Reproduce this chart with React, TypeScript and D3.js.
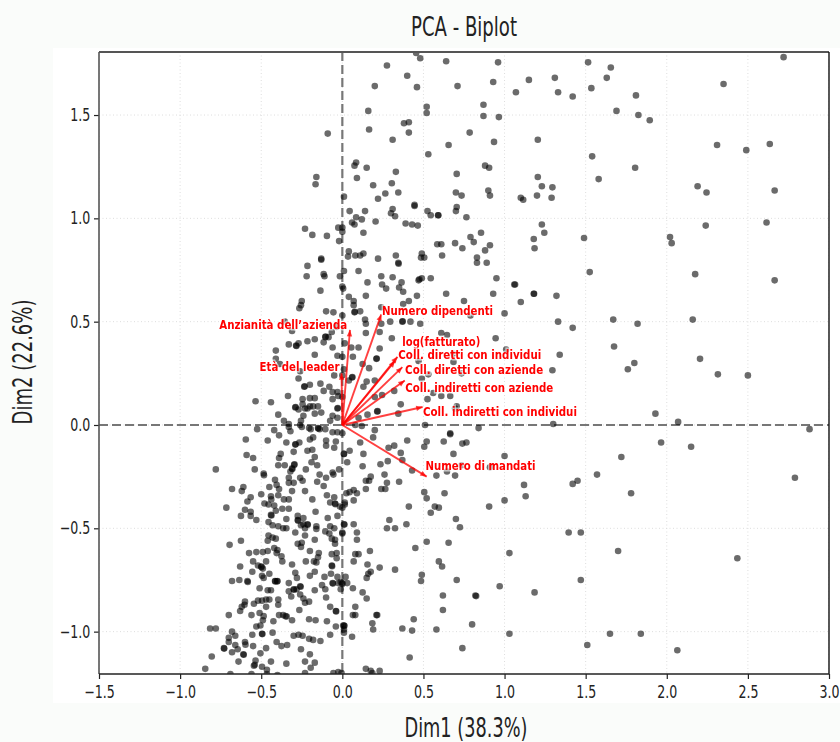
import React, { useEffect, useRef } from "react";
import * as d3 from "d3";

type Pt = [number, number];

const upperLeft: Pt[] = [
  [0.275,1.74],[0.2,1.64],[0.16,1.52],[0.165,1.43],[-0.09,1.41],[0.085,1.27],[0.075,1.255],[0.15,1.245],[-0.16,1.2],[-0.165,1.165],
  [0.09,1.195],[0.19,1.16],[0.01,1.105],[0.265,1.12],[0.22,1.095],[0.045,1.035],[0.14,1.035],[0.085,1.005],[0.06,0.98],[0.075,0.97],
  [0.12,0.995],[0.205,0.985],[-0.23,0.95],[-0.185,0.92],[-0.095,0.915],[-0.025,0.955],[0,0.955],[0,0.935],[-0.02,0.89],[0.13,0.93],
  [0.04,0.84],[0.13,0.83],[0.035,0.815],[0.08,0.82],[0.11,0.82],[-0.13,0.805],[0.22,0.805],
];
const upperMiddle: Pt[] = [
  [0.455,1.8],[0.48,1.775],[0.64,1.76],[0.96,1.755],[0.4,1.69],[0.46,1.635],[0.71,1.64],[0.93,1.66],[1.15,1.67],[1.31,1.68],
  [1.07,1.61],[1.33,1.61],[1.42,1.59],[1.515,1.755],[0.52,1.54],[0.52,1.51],[0.87,1.55],[0.87,1.495],[0.965,1.49],[0.38,1.46],
  [0.41,1.465],[0.41,1.415],[0.31,1.38],[0.785,1.415],[0.655,1.355],[0.935,1.37],[1.205,1.38],[0.53,1.31],[0.33,1.225],[0.88,1.255],
  [0.905,1.245],[0.705,1.215],[1.205,1.2],[0.305,1.17],[1.23,1.155],[1.295,1.15],[0.9,1.135],[0.91,1.11],[0.7,1.125],[0.735,1.11],
  [0.345,1.125],[1.2,1.11],[1.29,1.1],[1.1,1.1],[1.115,1.09],[0.445,1.065],[0.445,1.06],[0.31,1.045],[0.3,1.025],[0.325,1.01],
  [0.705,1.055],[0.7,1.035],[0.525,1.035],[0.545,1.015],[0.59,1.015],[0.592,1.015],[0.765,1.005],[0.39,0.975],[0.43,0.97],[0.465,0.965],
  [1.23,0.97],[1.245,0.93],[1.18,0.9],[1.185,0.855],[1.49,0.905],[0.855,0.93],[0.79,0.91],[0.81,0.885],[0.695,0.88],[0.585,0.875],
  [0.61,0.875],[0.91,0.87],[0.74,0.855],[0.88,0.845],[0.33,0.82],[0.49,0.83],[0.485,0.81],[0.505,0.81],[0.615,0.82],[0.83,0.81],
  [0.83,0.785],[0.89,0.785],[0.345,0.785],[0.347,0.78],[0.31,0.715],[0.475,0.705],[0.49,0.71],[0.545,0.71],[0.95,0.71],[1.065,0.68],
];
const upperRight: Pt[] = [
  [1.655,1.73],[1.63,1.68],[1.535,1.63],[1.81,1.595],[1.69,1.52],[1.825,1.5],[1.895,1.475],[2.35,1.65],[2.72,1.78],[2.31,1.355],
  [2.49,1.33],[2.635,1.36],[1.54,1.3],[1.805,1.245],[1.58,1.19],[2.19,1.155],[2.245,1.125],[2.665,1.135],[2.24,0.965],[2.615,0.98],
  [2.02,0.91],[2.03,0.88],[1.525,0.74],[2.175,0.73],[2.665,0.7],[1.67,0.51],[1.82,0.49],[2.16,0.51],[1.675,0.38],[1.8,0.3],
  [1.76,0.27],[2.205,0.32],[2.315,0.245],[2.5,0.24],[1.93,0.055],[2.07,0.015],[2.88,-0.02],[1.965,-0.085],[2.15,-0.105],[1.72,-0.155],
  [1.57,-0.24],[1.78,-0.33],[2.79,-0.255],
];
const centerRight: Pt[] = [
  [0.155,0.69],[0.245,0.68],[0.27,0.66],[0.365,0.69],[0.35,0.665],[0.375,0.645],[0.47,0.7],[0.04,0.62],[0.07,0.6],[0.145,0.625],
  [0.46,0.625],[0.41,0.6],[0.375,0.585],[0.64,0.635],[0.93,0.635],[1.06,0.68],[1.18,0.635],[1.182,0.635],[1.32,0.625],[0.75,0.6],
  [1.1,0.595],[0.07,0.58],[0.075,0.545],[0.077,0.548],[0.11,0.55],[0.24,0.57],[0.14,0.51],[0.145,0.49],[0.295,0.5],[0.37,0.5],
  [0.372,0.502],[0.42,0.5],[0.48,0.49],[0.24,0.49],[0.23,0.45],[0.145,0.445],[0.305,0.42],[0.61,0.445],[0.645,0.435],[0.945,0.42],
  [1,0.54],[0.79,0.53],[1.33,0.5],[1.42,0.47],[0.055,0.375],[0.1,0.375],[0.23,0.37],[0.065,0.33],[0.21,0.32],[0.212,0.322],
  [0.125,0.295],[0.165,0.275],[0.06,0.23],[0.062,0.232],[0.04,0.215],[0.15,0.21],[0.2,0.215],[0.13,0.185],[0.32,0.165],[0.2,0.135],
  [0.245,0.145],[0.36,0.1],[0.215,0.065],[0.217,0.067],[0.155,0.05],[0.345,0.055],[0.1,0.035],[0.47,0.31],[0.685,0.345],[0.685,0.305],
  [0.49,0.225],[0.53,0.245],[0.735,0.25],[0.56,0.155],[0.61,0.14],[0.665,0.14],[0.525,0.125],[1.34,0.34],[1.295,0.265],[1.01,0.365],
  [0.695,0.08],[0.705,0.09],[0.51,0],[0.84,-0.015],[1.3,0.005],[0.12,-0.005],[0.08,0],[0.2,-0.025],[0.19,-0.06],[0.11,-0.085],
  [0.4,-0.075],[0.52,-0.08],[0.505,-0.105],[0.625,-0.08],[0.665,-0.04],[0.665,-0.045],[0.74,-0.09],[0.765,-0.085],[0.285,-0.11],[0.32,-0.1],
  [0.36,-0.135],[0.685,-0.14],[1,-0.15],[0.13,-0.14],[0.045,-0.125],[0.01,-0.14],[0.03,-0.18],[0.125,-0.2],[0.28,-0.175],[0.235,-0.19],
  [0.26,-0.24],[0.37,-0.17],[0.43,-0.22],[0.58,-0.245],[0.645,-0.225],[0.695,-0.245],[0.735,-0.195],[0.91,-0.205],[0.175,-0.25],[0.145,-0.27],
  [0.165,-0.27],[0.275,-0.28],[0.35,-0.275],[1.12,-0.29],[1.42,-0.285],[1.45,-0.27],[0,-0.04],
];
const lowerRight: Pt[] = [
  [0.145,-0.31],[0.24,-0.31],[0.265,-0.31],[0.07,-0.315],[0.09,-0.33],[0.025,-0.33],[0.045,-0.325],[0.07,-0.365],[0.015,-0.375],[0.015,-0.385],
  [0,-0.4],[0.505,-0.325],[0.52,-0.355],[0.63,-0.33],[0.41,-0.395],[0.57,-0.395],[0.595,-0.4],[0.545,-0.425],[0.905,-0.395],[1,-0.365],
  [1.13,-0.345],[0.7,-0.455],[0.725,-0.495],[0.29,-0.46],[0.395,-0.48],[0.275,-0.5],[0.325,-0.5],[0.07,-0.48],[0.01,-0.48],[0.013,-0.482],
  [0,-0.52],[0.09,-0.52],[0.09,-0.555],[1.395,-0.52],[1.47,-0.52],[0.52,-0.565],[0.655,-0.57],[0.45,-0.595],[0.17,-0.61],[1.03,-0.62],
  [0.08,-0.625],[0.1,-0.625],[0.07,-0.66],[0.595,-0.66],[0.615,-0.685],[0.155,-0.675],[0.23,-0.69],[0.325,-0.7],[0.175,-0.71],[0.16,-0.72],
  [0.15,-0.74],[0.02,-0.735],[0.03,-0.765],[0,-0.77],[0.065,-0.79],[0.49,-0.725],[0.485,-0.755],[0.705,-0.75],[0.97,-0.78],[1.185,-0.81],
  [1.47,-0.75],[0.125,-0.81],[0.15,-0.84],[0.62,-0.825],[0.82,-0.825],[0.825,-0.828],[0.62,-0.895],[0.08,-0.88],[0.08,-0.92],[0.065,-0.92],
  [0.21,-0.92],[0.215,-0.92],[0.44,-0.94],[0.8,-0.965],[0.185,-0.96],[0.19,-0.99],[0.37,-0.985],[0.43,-0.995],[0.58,-0.99],[1.03,-1.01],
  [0.01,-0.97],[0.013,-0.972],[0.01,-1.005],[0.06,-1.025],[0.74,-1.08],[1.51,-1.065],[0.415,-1.125],[0.145,-1.18],[0.175,-1.19],[0.23,-1.19],
  [0.185,-1.2],[2.065,-1.09],[2.435,-0.645],[1.7,-0.61],[1.65,-1.01],[1.84,-1.01],
];
const centerLeft: Pt[] = [
  [-0.215,0.77],[-0.13,0.8],[-0.22,0.72],[-0.115,0.73],[-0.11,0.72],[-0.015,0.72],[0.01,0.745],[0.1,0.745],[0.24,0.72],[-0.135,0.65],
  [0,0.67],[0.005,0.66],[-0.25,0.6],[-0.255,0.58],[-0.265,0.565],[-0.1,0.55],[-0.055,0.545],[0,0.53],[-0.355,0.5],[-0.31,0.455],
  [-0.065,0.45],[-0.035,0.475],[-0.105,0.425],[-0.103,0.428],[-0.085,0.425],[-0.115,0.4],[-0.17,0.415],[-0.215,0.405],[-0.33,0.39],[-0.285,0.385],
  [-0.27,0.395],[-0.283,0.382],[0.015,0.395],[-0.41,0.36],[-0.41,0.32],[-0.385,0.295],[-0.17,0.34],[-0.06,0.375],[-0.03,0.335],[0,0.33],
  [-0.26,0.26],[-0.27,0.225],[-0.05,0.24],[0.01,0.27],[0,0.24],[-0.2,0.195],[-0.235,0.185],[-0.232,0.187],[-0.135,0.2],[-0.08,0.185],
  [-0.115,0.165],[-0.06,0.16],[-0.03,0.16],[-0.06,0.125],[-0.025,0.14],[0,0.135],[-0.335,0.14],[-0.535,0.115],[-0.44,0.11],[-0.245,0.125],
  [-0.2,0.13],[-0.17,0.13],[-0.245,0.1],[-0.2,0.09],[-0.29,0.085],[-0.288,0.087],[-0.27,0.075],[-0.23,0.08],[-0.18,0.09],[-0.15,0.09],
  [-0.215,0.08],[-0.17,0.055],[-0.13,0.06],[-0.24,0.045],[-0.395,0.05],[-0.36,0.02],[-0.255,0.02],[-0.06,0.045],[-0.03,0.08],[-0.028,0.082],
  [-0.03,0.035],[-0.075,0.02],[-0.33,0.005],[-0.26,0],[-0.14,-0.02],[-0.105,-0.02],[-0.525,-0.02],[-0.42,-0.025],[-0.205,-0.015],
];
const lowerLeftTop: Pt[] = [
  [-0.39,-0.05],[-0.33,-0.01],[-0.32,-0.03],[-0.25,-0.01],[-0.195,-0.02],[-0.15,-0.015],[-0.148,-0.017],[-0.06,-0.035],[-0.03,-0.035],[-0.595,-0.07],
  [-0.46,-0.075],[-0.345,-0.085],[-0.29,-0.095],[-0.288,-0.093],[-0.265,-0.085],[-0.2,-0.07],[-0.18,-0.06],[-0.1,-0.075],[-0.1,-0.1],[-0.04,-0.08],
  [-0.05,-0.11],[-0.3,-0.13],[-0.215,-0.125],[-0.185,-0.12],[0.01,-0.14],[-0.59,-0.145],[-0.55,-0.16],[-0.38,-0.14],[-0.39,-0.16],[-0.17,-0.155],
  [-0.19,-0.18],[-0.78,-0.215],[-0.54,-0.215],[-0.395,-0.195],[-0.355,-0.195],[-0.295,-0.19],[-0.297,-0.193],[-0.31,-0.21],[-0.308,-0.213],[-0.32,-0.225],
  [-0.155,-0.195],[-0.225,-0.215],[-0.02,-0.215],[-0.485,-0.235],[-0.483,-0.243],[-0.06,-0.23],[-0.055,-0.24],[-0.14,-0.24],[-0.1,-0.255],[-0.26,-0.255],
  [-0.245,-0.27],[-0.33,-0.255],[-0.33,-0.28],[-0.3,-0.28],[-0.415,-0.265],[-0.155,-0.275],[-0.115,-0.295],[-0.405,-0.29],[-0.45,-0.3],[-0.39,-0.31],
  [-0.61,-0.3],[-0.62,-0.32],[-0.68,-0.31],[-0.31,-0.32],[-0.23,-0.32],[-0.395,-0.34],[-0.5,-0.335],[-0.44,-0.345],[-0.438,-0.36],[-0.565,-0.35],
  [-0.36,-0.36],[-0.33,-0.36],[-0.185,-0.36],[-0.095,-0.34],[-0.05,-0.35],[-0.075,-0.375],[-0.045,-0.38],[-0.043,-0.383],[-0.015,-0.395],[-0.585,-0.37],
  [-0.48,-0.38],[-0.455,-0.385],[-0.42,-0.39],[-0.715,-0.4],[-0.6,-0.41],[-0.565,-0.42],[-0.41,-0.415],[-0.37,-0.405],[-0.33,-0.405],[-0.625,-0.44],
  [-0.565,-0.44],[-0.44,-0.435],[-0.437,-0.438],[-0.165,-0.42],[-0.09,-0.45],[-0.03,-0.44],[-0.53,-0.46],[-0.455,-0.47],[-0.345,-0.455],[-0.275,-0.44],
  [-0.275,-0.46],[-0.273,-0.463],[-0.24,-0.45],[-0.43,-0.485],[-0.395,-0.49],[-0.365,-0.5],[-0.345,-0.5],[-0.24,-0.48],[-0.215,-0.48],[-0.213,-0.483],
  [-0.255,-0.485],[-0.23,-0.5],[-0.16,-0.49],[-0.16,-0.503],[-0.105,-0.515],[-0.05,-0.5],[-0.075,-0.49],[0,-0.525],[-0.29,-0.52],[-0.23,-0.535],
  [-0.17,-0.555],[-0.08,-0.525],[-0.065,-0.55],[-0.045,-0.555],[-0.045,-0.575],[-0.455,-0.535],[-0.43,-0.545],[-0.46,-0.56],[-0.41,-0.55],[-0.695,-0.58],
  [-0.625,-0.56],[-0.42,-0.595],[-0.275,-0.575],[-0.25,-0.57],[-0.255,-0.59],[-0.4,-0.605],[-0.575,-0.62],[-0.53,-0.615],[-0.49,-0.615],[-0.46,-0.61],
  [-0.405,-0.62],[-0.2,-0.61],[-0.145,-0.62],[-0.065,-0.625],[-0.035,-0.62],
];
const lowerLeftBottom: Pt[] = [
  [-0.375,-0.635],[-0.37,-0.66],[-0.55,-0.66],[-0.63,-0.685],[-0.52,-0.68],[-0.5,-0.685],[-0.498,-0.688],[-0.47,-0.66],[-0.49,-0.695],[-0.31,-0.675],
  [-0.225,-0.66],[-0.175,-0.66],[-0.16,-0.665],[-0.15,-0.64],[-0.065,-0.68],[-0.063,-0.683],[-0.035,-0.645],[-0.555,-0.71],[-0.495,-0.73],[-0.45,-0.72],
  [-0.485,-0.74],[-0.68,-0.755],[-0.635,-0.75],[-0.585,-0.755],[-0.583,-0.76],[-0.415,-0.755],[-0.413,-0.757],[-0.4,-0.755],[-0.402,-0.757],[-0.29,-0.715],
  [-0.28,-0.74],[-0.33,-0.765],[-0.2,-0.73],[-0.17,-0.71],[-0.11,-0.735],[-0.07,-0.72],[-0.03,-0.735],[-0.125,-0.775],[-0.105,-0.795],[-0.06,-0.765],
  [-0.058,-0.767],[-0.025,-0.765],[-0.01,-0.76],[0,-0.765],[-0.01,-0.795],[-0.26,-0.78],[-0.257,-0.783],[-0.3,-0.795],[-0.298,-0.797],[-0.33,-0.805],
  [-0.282,-0.795],[-0.315,-0.83],[-0.26,-0.82],[-0.17,-0.8],[-0.51,-0.79],[-0.46,-0.8],[-0.44,-0.8],[-0.24,-0.84],[-0.205,-0.855],[-0.23,-0.86],
  [-0.1,-0.835],[-0.45,-0.845],[-0.47,-0.845],[-0.495,-0.85],[-0.52,-0.85],[-0.545,-0.865],[-0.6,-0.855],[-0.603,-0.87],[-0.62,-0.88],[-0.47,-0.88],
  [-0.395,-0.845],[-0.395,-0.87],[-0.63,-0.9],[-0.7,-0.92],[-0.56,-0.92],[-0.51,-0.91],[-0.485,-0.925],[-0.265,-0.895],[-0.075,-0.88],[-0.04,-0.9],
  [-0.038,-0.902],[-0.39,-0.92],[-0.365,-0.92],[-0.35,-0.925],[-0.343,-0.927],[-0.31,-0.945],[-0.425,-0.95],[-0.49,-0.945],[-0.205,-0.94],[-0.165,-0.945],
  [-0.095,-0.95],[-0.815,-0.985],[-0.78,-0.985],[-0.53,-0.975],[-0.505,-0.97],[-0.04,-0.975],[0.005,-0.97],[0.01,-0.99],[-0.68,-1],[-0.7,-1.03],
  [-0.66,-1.02],[-0.555,-1.015],[-0.495,-1.01],[-0.493,-1.012],[-0.43,-1.005],[-0.3,-1.02],[-0.27,-1.015],[-0.245,-1.02],[-0.205,-1.035],[-0.18,-1.04],
  [-0.135,-1.045],[-0.075,-1.015],[-0.7,-1.05],[-0.6,-1.05],[-0.597,-1.063],[-0.66,-1.065],[-0.55,-1.07],[-0.405,-1.05],[-0.375,-1.07],[-0.34,-1.065],
  [-0.73,-1.08],[-0.728,-1.082],[-0.645,-1.085],[-0.47,-1.08],[-0.68,-1.1],[-0.61,-1.11],[-0.608,-1.112],[-0.505,-1.105],[-0.255,-1.085],[-0.2,-1.11],
  [-0.805,-1.12],[-0.64,-1.145],[-0.535,-1.14],[-0.44,-1.145],[-0.345,-1.155],[-0.23,-1.145],[-0.17,-1.15],[-0.195,-1.175],[-0.545,-1.165],[-0.54,-1.16],
  [-0.495,-1.17],[-0.465,-1.185],[-0.845,-1.18],[-0.69,-1.205],[-0.56,-1.205],[-0.465,-1.205],[-0.4,-1.21],[-0.23,-1.2],[-0.055,-1.2],[-0.025,-1.195],
  [-0.005,-1.2],
];

const individuals: Pt[] = [
  ...upperLeft,
  ...upperMiddle,
  ...upperRight,
  ...centerRight,
  ...lowerRight,
  ...centerLeft,
  ...lowerLeftTop,
  ...lowerLeftBottom,
];

// loadings
const variables = [
  "Numero dipendenti",
  "Anzianità dell’azienda",
  "Età del leader",
  "log(fatturato)",
  "Coll. diretti con individui",
  "Coll. diretti con aziende",
  "Coll. indiretti con aziende",
  "Coll. indiretti con individui",
  "Numero di mandati",
];
const loadDim1 = [0.24, 0.047, -0.005, 0.34, 0.325, 0.37, 0.385, 0.495, 0.52];
const loadDim2 = [0.535, 0.46, 0.25, 0.33, 0.31, 0.28, 0.215, 0.087, -0.25];
const labelDim1 = [0.245, 0.03, -0.017, 0.37, 0.345, 0.387, 0.388, 0.497, 0.513];
const labelDim2 = [0.533, 0.465, 0.26, 0.38, 0.32, 0.247, 0.162, 0.045, -0.22];
const labelAnchors = ["start", "end", "end", "start", "start", "start", "start", "start", "start"];
const labelWidths = [111, 128, 80, 78, 143, 138, 148, 154, 110];

const xTicks = [-1.5, -1, -0.5, 0, 0.5, 1, 1.5, 2, 2.5, 3];
const yTicks = [-1, -0.5, 0, 0.5, 1, 1.5];

const width = 840;
const height = 742;
const margin = { top: 52, right: 11, bottom: 68, left: 99 };
const font = '"DejaVu Sans", sans-serif';

export default function App() {
  const svgRef = useRef<SVGSVGElement>(null);

  useEffect(() => {
    const svg = d3.select(svgRef.current);
    svg.selectAll("*").remove();

    const x = d3.scaleLinear().domain([-1.5, 3]).range([margin.left, width - margin.right]);
    const y = d3.scaleLinear().domain([-1.205, 1.805]).range([height - margin.bottom, margin.top]);
    const innerW = width - margin.left - margin.right;
    const innerH = height - margin.top - margin.bottom;

    svg.append("rect").attr("width", width).attr("height", height).attr("fill", "#fafcfa");
    svg.append("rect").attr("x", 53).attr("y", 48).attr("width", width - 53).attr("height", 655).attr("fill", "#fff");

    const defs = svg.append("defs");
    defs.append("filter").attr("id", "soft").append("feGaussianBlur").attr("stdDeviation", 0.45);
    defs.append("clipPath").attr("id", "plot-area").append("rect")
      .attr("x", margin.left).attr("y", margin.top).attr("width", innerW).attr("height", innerH);

    const plot = svg.append("g").attr("filter", "url(#soft)").attr("clip-path", "url(#plot-area)");

    // grid
    plot.selectAll(".gx").data(xTicks).join("line")
      .attr("x1", (d) => x(d)).attr("x2", (d) => x(d))
      .attr("y1", margin.top).attr("y2", height - margin.bottom)
      .attr("stroke", "#ddd").attr("stroke-width", 1).attr("stroke-dasharray", "1 2.5");
    plot.selectAll(".gy").data(yTicks).join("line")
      .attr("x1", margin.left).attr("x2", width - margin.right)
      .attr("y1", (d) => y(d)).attr("y2", (d) => y(d))
      .attr("stroke", "#ddd").attr("stroke-width", 1).attr("stroke-dasharray", "1 2.5");

    // zero lines
    plot.append("line").attr("x1", x(0)).attr("x2", x(0)).attr("y1", margin.top).attr("y2", height - margin.bottom)
      .attr("stroke", "#777").attr("stroke-width", 2.2).attr("stroke-dasharray", "9 4");
    plot.append("line").attr("x1", margin.left).attr("x2", width - margin.right).attr("y1", y(0)).attr("y2", y(0))
      .attr("stroke", "#777").attr("stroke-width", 2.2).attr("stroke-dasharray", "9 4");

    plot.append("g").selectAll("circle").data(individuals).join("circle")
      .attr("cx", (d) => x(d[0])).attr("cy", (d) => y(d[1])).attr("r", 3.3)
      .attr("fill", "#000").attr("fill-opacity", 0.58);

    // arrows
    const arrows = plot.append("g");
    variables.forEach((name, i) => {
      const x1 = x(loadDim1[i]);
      const y1 = y(loadDim2[i]);
      const angle = Math.atan2(y1 - y(0), x1 - x(0));
      const head = d3.path();
      head.moveTo(x1, y1);
      head.lineTo(x1 - 7 * Math.cos(angle - 0.4), y1 - 7 * Math.sin(angle - 0.4));
      head.lineTo(x1 - 7 * Math.cos(angle + 0.4), y1 - 7 * Math.sin(angle + 0.4));
      head.closePath();
      arrows.append("line").attr("x1", x(0)).attr("y1", y(0)).attr("x2", x1).attr("y2", y1)
        .attr("stroke", "#f00").attr("stroke-width", 1.9).attr("stroke-opacity", 0.75);
      arrows.append("path").attr("d", head.toString()).attr("fill", "#f00").attr("fill-opacity", 0.75);
    });

    const labels = plot.append("g");
    variables.forEach((name, i) => {
      labels.append("text")
        .attr("x", x(labelDim1[i])).attr("y", y(labelDim2[i]))
        .attr("text-anchor", labelAnchors[i])
        .attr("font-family", font).attr("font-weight", "bold").attr("font-size", 12)
        .attr("fill", "#f00").attr("stroke", "#fff").attr("stroke-opacity", 0.6).attr("stroke-width", 3)
        .attr("paint-order", "stroke")
        .attr("textLength", labelWidths[i]).attr("lengthAdjust", "spacingAndGlyphs")
        .text(name);
    });

    // axes
    const axisB = svg.append("g").attr("transform", `translate(0,${height - margin.bottom})`)
      .call(d3.axisBottom(x).tickValues(xTicks).tickFormat(d3.format(".1f")).tickSizeOuter(0).tickSize(5));
    const axisL = svg.append("g").attr("transform", `translate(${margin.left},0)`)
      .call(d3.axisLeft(y).tickValues(yTicks).tickFormat(d3.format(".1f")).tickSizeOuter(0).tickSize(5));
    axisB.select(".domain").remove();
    axisL.select(".domain").remove();
    axisB.selectAll("line").attr("stroke", "#222").attr("stroke-width", 1.2);
    axisL.selectAll("line").attr("stroke", "#222").attr("stroke-width", 1.2);
    axisB.selectAll("text")
      .attr("font-family", font).attr("font-size", 17.5).attr("fill", "#222")
      .attr("dy", "0.9em").attr("transform", "scale(0.72,1)");
    // left labels end at the tick, so scale around the tick end
    axisL.selectAll("text")
      .attr("font-family", font).attr("font-size", 17.5).attr("fill", "#222")
      .attr("x", -12).attr("transform", "scale(0.72,1)");

    // spines
    const spines = svg.append("g").attr("fill", "none");
    spines.append("line").attr("x1", margin.left).attr("x2", width - margin.right).attr("y1", margin.top).attr("y2", margin.top)
      .attr("stroke", "#555").attr("stroke-width", 2);
    spines.append("line").attr("x1", margin.left).attr("x2", margin.left).attr("y1", margin.top).attr("y2", height - margin.bottom)
      .attr("stroke", "#555").attr("stroke-width", 1.6);
    spines.append("line").attr("x1", width - margin.right).attr("x2", width - margin.right).attr("y1", margin.top).attr("y2", height - margin.bottom)
      .attr("stroke", "#111").attr("stroke-width", 1.4);
    spines.append("line").attr("x1", margin.left).attr("x2", width - margin.right).attr("y1", height - margin.bottom).attr("y2", height - margin.bottom)
      .attr("stroke", "#222").attr("stroke-width", 1.6);

    // titles
    svg.append("text").attr("x", 464).attr("y", 36).attr("text-anchor", "middle")
      .attr("font-family", font).attr("font-size", 26).attr("fill", "#222")
      .attr("textLength", 106).attr("lengthAdjust", "spacingAndGlyphs").text("PCA - Biplot");
    svg.append("text").attr("x", 466).attr("y", 737).attr("text-anchor", "middle")
      .attr("font-family", font).attr("font-size", 26).attr("fill", "#222")
      .attr("textLength", 123).attr("lengthAdjust", "spacingAndGlyphs").text("Dim1 (38.3%)");
    svg.append("text").attr("transform", "translate(32,362) rotate(-90)").attr("text-anchor", "middle")
      .attr("font-family", font).attr("font-size", 26).attr("fill", "#222")
      .attr("textLength", 125).attr("lengthAdjust", "spacingAndGlyphs").text("Dim2 (22.6%)");
  }, []);

  return (
    <svg
      ref={svgRef}
      width={width}
      height={height}
      style={{ position: "absolute", left: 0, top: 0, display: "block" }}
    />
  );
}
